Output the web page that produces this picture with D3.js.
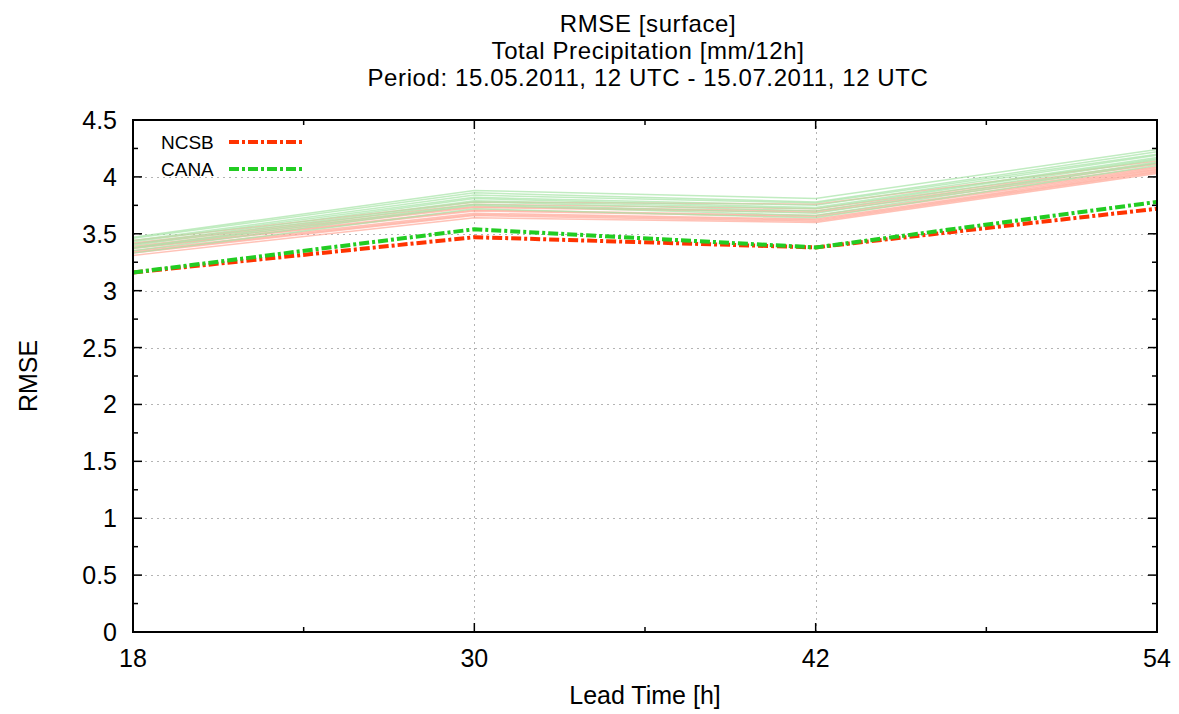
<!DOCTYPE html>
<html>
<head>
    <title>RMSE surface</title>
    <meta charset="utf-8">
    <style type="text/css">
        html, body {
            margin: 0;
            background: #fff;
        }
        svg text {
            font-family: "Liberation Sans", Arial, Helvetica, sans-serif;
            fill: #000;
        }
    </style>
</head>
<body>
<svg id="chart" width="1179" height="714"></svg>

<script src="https://d3js.org/d3.v7.min.js"></script>
<script>
    "use strict";

    // lead times in hours
    const leadTimes = [18, 30, 42, 54];

    const titleLines = [
        "RMSE [surface]",
        "Total Precipitation [mm/12h]",
        "Period: 15.05.2011, 12 UTC - 15.07.2011, 12 UTC"
    ];

    // main runs
    const ncsb = [3.16, 3.47, 3.38, 3.72];
    const cana = [3.16, 3.54, 3.38, 3.78];

    // ensemble members (thin light lines)
    const ncsbMembers = [
        [3.44, 3.78, 3.76, 4.14],
        [3.42, 3.76, 3.72, 4.12],
        [3.41, 3.74, 3.70, 4.11],
        [3.39, 3.73, 3.69, 4.09],
        [3.38, 3.71, 3.66, 4.08],
        [3.37, 3.70, 3.65, 4.07],
        [3.35, 3.68, 3.63, 4.06],
        [3.34, 3.67, 3.62, 4.05],
        [3.33, 3.66, 3.61, 4.04],
        [3.31, 3.64, 3.60, 4.03]
    ];
    const canaMembers = [
        [3.47, 3.88, 3.81, 4.24],
        [3.46, 3.86, 3.78, 4.22],
        [3.44, 3.84, 3.77, 4.20],
        [3.43, 3.82, 3.75, 4.19],
        [3.41, 3.81, 3.73, 4.17],
        [3.40, 3.79, 3.72, 4.16],
        [3.38, 3.78, 3.70, 4.15],
        [3.37, 3.76, 3.68, 4.13],
        [3.35, 3.75, 3.66, 4.12],
        [3.33, 3.72, 3.64, 4.10]
    ];

    const yTicks = [0, 0.5, 1, 1.5, 2, 2.5, 3, 3.5, 4, 4.5];
    const yMinor = d3.range(0.25, 4.5, 0.5);
    const xMinor = [24, 36, 48];

    const margin = {left: 133, right: 22, top: 120, bottom: 82},
        width = 1179,
        height = 714,
        svg = d3.select("#chart");

    const x = d3.scaleLinear().domain([18, 54]).range([margin.left, width - margin.right]);
    const y = d3.scaleLinear().domain([0, 4.5]).range([height - margin.bottom, margin.top]);

    const x0 = x.range()[0], x1 = x.range()[1],
        y0 = y.range()[0], y1 = y.range()[1];

    // grid
    const grid = svg.append("g")
        .attr("stroke", "#b4b4b4")
        .attr("stroke-width", 1)
        .attr("stroke-dasharray", "2,4");
    grid.selectAll(".hgrid")
        .data(yTicks.filter(d => d > 0 && d < 4.5))
        .enter().append("line")
        .attr("x1", x0).attr("x2", x1)
        .attr("y1", d => Math.round(y(d)) + 0.5).attr("y2", d => Math.round(y(d)) + 0.5);
    grid.selectAll(".vgrid")
        .data([30, 42])
        .enter().append("line")
        .attr("y1", y0).attr("y2", y1)
        .attr("x1", d => Math.round(x(d)) + 0.5).attr("x2", d => Math.round(x(d)) + 0.5);

    const line = d3.line()
        .x((d, i) => x(leadTimes[i]))
        .y(d => y(d));

    // members
    svg.append("g").selectAll("path")
        .data(ncsbMembers)
        .enter().append("path")
        .attr("d", line)
        .attr("fill", "none")
        .attr("stroke", "#ffa898")
        .attr("stroke-opacity", 0.7)
        .attr("stroke-width", 1.5);
    svg.append("g").selectAll("path")
        .data(canaMembers)
        .enter().append("path")
        .attr("d", line)
        .attr("fill", "none")
        .attr("stroke", "#a6e4a6")
        .attr("stroke-opacity", 0.7)
        .attr("stroke-width", 1.5);

    const series = [
        {name: "NCSB", values: ncsb, color: "#ff3300"},
        {name: "CANA", values: cana, color: "#22cc22"}
    ];

    svg.append("g").selectAll("path")
        .data(series)
        .enter().append("path")
        .attr("d", d => line(d.values))
        .attr("fill", "none")
        .attr("stroke", d => d.color)
        .attr("stroke-width", 4)
        .attr("stroke-dasharray", "10,3,3,3");

    // frame + ticks
    const frame = svg.append("g").attr("stroke", "#000");
    frame.append("rect")
        .attr("x", x0).attr("y", y1)
        .attr("width", x1 - x0).attr("height", y0 - y1)
        .attr("fill", "none")
        .attr("stroke-width", 2);

    function yTick(v, len) {
        frame.append("line").attr("x1", x0).attr("x2", x0 + len)
            .attr("y1", y(v)).attr("y2", y(v)).attr("stroke-width", 1.5);
        frame.append("line").attr("x1", x1).attr("x2", x1 - len)
            .attr("y1", y(v)).attr("y2", y(v)).attr("stroke-width", 1.5);
    }
    function xTick(v, len) {
        frame.append("line").attr("y1", y0).attr("y2", y0 - len)
            .attr("x1", x(v)).attr("x2", x(v)).attr("stroke-width", 1.5);
        frame.append("line").attr("y1", y1).attr("y2", y1 + len)
            .attr("x1", x(v)).attr("x2", x(v)).attr("stroke-width", 1.5);
    }
    yTicks.forEach(v => yTick(v, 9));
    yMinor.forEach(v => yTick(v, 5));
    leadTimes.forEach(v => xTick(v, 9));
    xMinor.forEach(v => xTick(v, 5));

    // tick labels
    svg.append("g").selectAll("text")
        .data(yTicks)
        .enter().append("text")
        .attr("x", x0 - 16)
        .attr("y", d => y(d))
        .attr("dy", "0.36em")
        .attr("text-anchor", "end")
        .attr("font-size", 25)
        .text(d => d);
    svg.append("g").selectAll("text")
        .data(leadTimes)
        .enter().append("text")
        .attr("x", d => x(d))
        .attr("y", 667)
        .attr("text-anchor", "middle")
        .attr("font-size", 25)
        .text(d => d);

    // axis titles
    svg.append("text")
        .attr("x", (x0 + x1) / 2)
        .attr("y", 704)
        .attr("text-anchor", "middle")
        .attr("font-size", 25)
        .text("Lead Time [h]");
    svg.append("text")
        .attr("transform", "translate(37," + ((y0 + y1) / 2) + ") rotate(-90)")
        .attr("text-anchor", "middle")
        .attr("font-size", 25)
        .text("RMSE");

    // title
    svg.append("g").selectAll("text")
        .data(titleLines)
        .enter().append("text")
        .attr("x", (x0 + x1) / 2 + 3)
        .attr("y", (d, i) => 32 + i * 27)
        .attr("text-anchor", "middle")
        .attr("font-size", 24)
        .attr("letter-spacing", 0.6)
        .text(d => d);

    // legend
    const legend = svg.append("g").selectAll("g")
        .data(series)
        .enter().append("g")
        .attr("transform", (d, i) => "translate(0," + (142 + i * 27) + ")");
    legend.append("text")
        .attr("x", 161)
        .attr("dy", "0.36em")
        .attr("font-size", 19)
        .text(d => d.name);
    legend.append("line")
        .attr("x1", 229).attr("x2", 303)
        .attr("stroke", d => d.color)
        .attr("stroke-width", 4)
        .attr("stroke-dasharray", "10,3,3,3");
</script>
</body>
</html>
